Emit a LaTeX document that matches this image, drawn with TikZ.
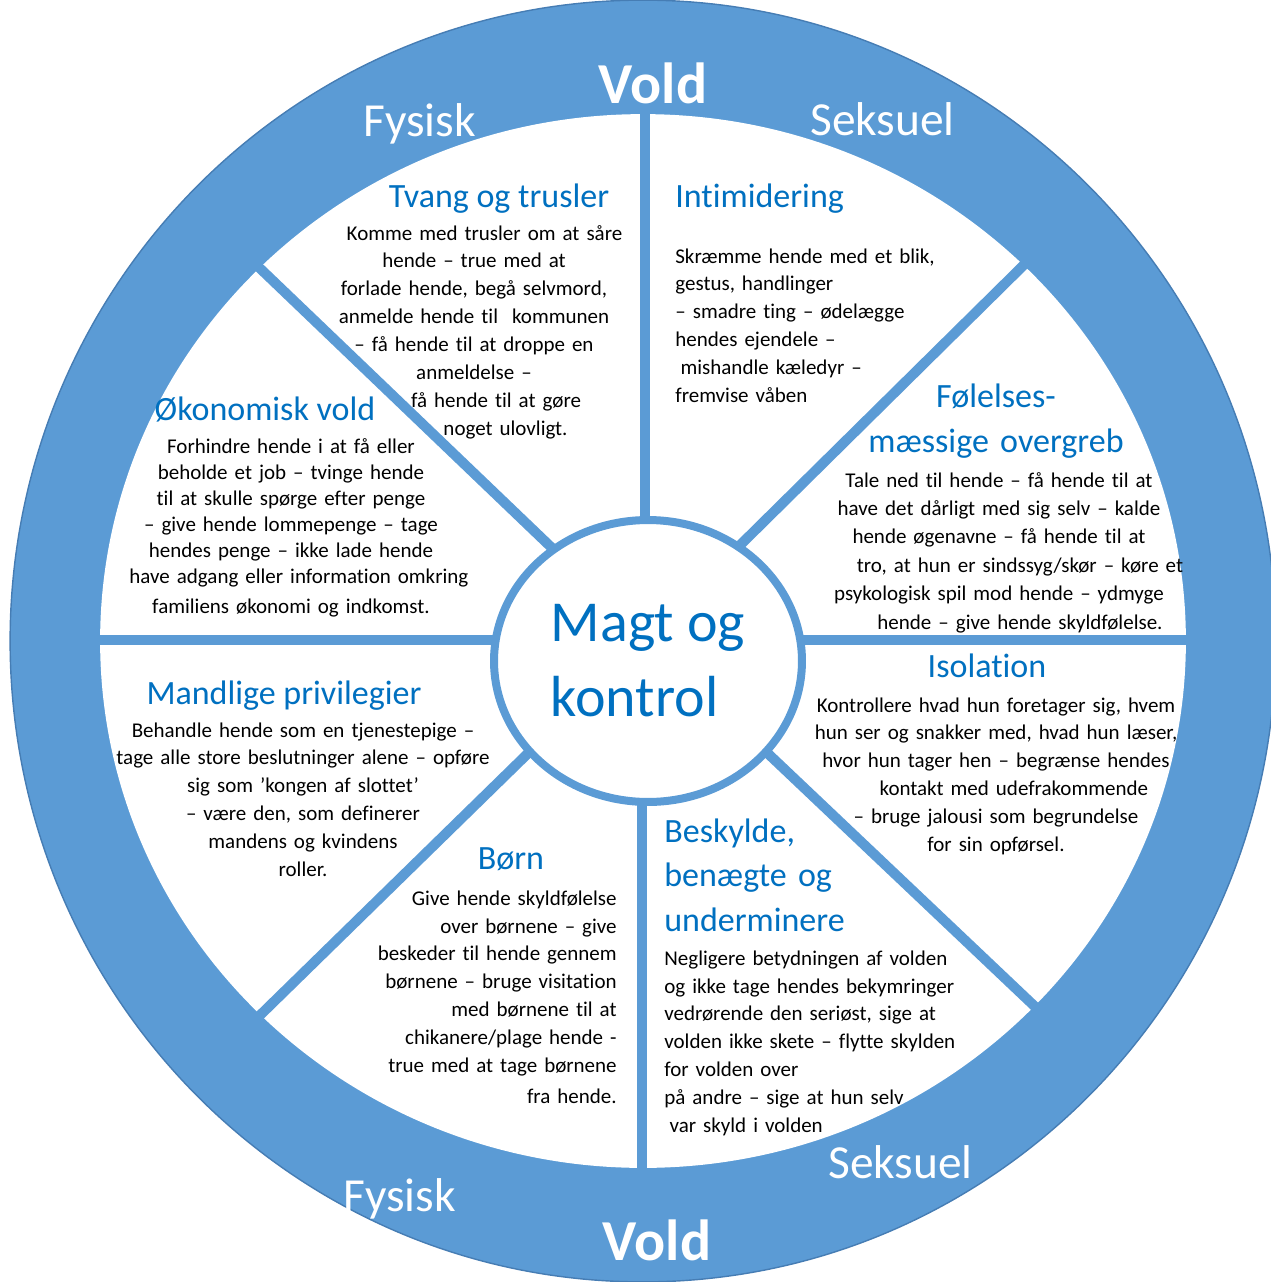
\documentclass[tikz,border=0pt]{standalone}
\usepackage{fontspec}
\setmainfont{Carlito}[Ligatures=NoCommon]
\usepackage{xcolor}
\usetikzlibrary{shapes.geometric}
\definecolor{wheelblue}{RGB}{91,155,213}
\definecolor{wheeledge}{RGB}{70,125,180}
\definecolor{titleblue}{RGB}{0,112,192}
\tikzset{
  spoke/.style={wheelblue, line width=5.7pt},
  hub/.style={ellipse, draw=wheelblue, line width=4.55pt, fill=white,
    minimum width=6.16cm, minimum height=5.64cm, inner sep=0pt, align=left,
    text=titleblue, font=\fontsize{33}{42.7}\selectfont},
  ringlabel/.style={white, inner sep=0pt, font=\fontsize{27}{32}\selectfont},
  voldlabel/.style={white, inner sep=0pt, font=\fontsize{33}{40}\selectfont\bfseries},
  heading/.style={titleblue, inner sep=0pt, font=\fontsize{19.35}{26}\selectfont},
  body/.style={black, inner sep=0pt, text width=9.5cm, font=\fontsize{11.95}{15.93}\selectfont},
}

\begin{document}
\begin{tikzpicture}[x=0.02cm, y=-0.02cm]
\useasboundingbox (0,0) rectangle (1271,1282);
\clip (0,0) rectangle (1271,1282);
% wheel
\draw[wheeledge, fill=wheelblue, line width=0.8pt] (643,641) ellipse [x radius=12.66cm, y radius=12.82cm];
\fill[white] (643,641) ellipse [x radius=10.86cm, y radius=10.54cm];
\coordinate (pivot) at (646,638);
\coordinate (rimN) at (645,95);
\coordinate (rimS) at (642,1190);
\coordinate (rimW) at (80,640);
\coordinate (rimE) at (1205,640);
\coordinate (rimNW) at (245,254);
\coordinate (rimNE) at (1039,250);
\coordinate (rimSW) at (249,1026);
\coordinate (rimSE) at (1047,1018);
\draw[spoke] (rimN |- pivot) -- (rimN);
\draw[spoke] (rimS |- pivot) -- (rimS);
\draw[spoke] (rimW) -- (rimE);
\draw[spoke] (pivot) -- (rimNW);
\draw[spoke] (pivot) -- (rimNE);
\draw[spoke] (pivot) -- (rimSW);
\draw[spoke] (pivot) -- (rimSE);
\node[hub] (hub) at (648,661) {Magt og\\kontrol};
% ring
\node[voldlabel, anchor=base] (voldtop) at (653,103) {Vold};
\node[ringlabel, anchor=base west] (fysisktop) at (363,136) {Fysisk};
\node[ringlabel, anchor=base west] (seksueltop) at (810,135) {Seksuel};
\node[ringlabel, anchor=base west] (fysiskbot) at (343,1211) {Fysisk};
\node[ringlabel, anchor=base west] (seksuelbot) at (828,1178) {Seksuel};
\node[voldlabel, anchor=base] (voldbot) at (657,1260) {Vold};
% headings
\node[heading, anchor=base] (tvang) at (499,207) {Tvang og trusler};
\node[heading, anchor=base west] (intim) at (675,207) {Intimidering};
\node[heading, anchor=base, text width=9cm, align=center] (folelse) at (996,407) {Følelses-\\mæssige overgreb};
\node[heading, anchor=base] (okonomi) at (265,420) {Økonomisk vold};
\node[heading, anchor=base] (mandlig) at (284,704) {Mandlige privilegier};
\node[heading, anchor=base] (isolation) at (987,677) {Isolation};
\node[heading, anchor=base] (born) at (511,869) {Børn};
\node[heading, anchor=base west, text width=9cm, align=left, font=\fontsize{19.35}{25.6}\selectfont] (beskyld) at (664,842) {Beskylde,\\benægte og\\underminere};
% texts
\node[body, align=center, anchor=base] (tvangtxt) at (474,240) {\hspace*{1em}Komme med trusler om at såre\\hende – true med at\\forlade hende, begå selvmord,\\anmelde hende til~ kommunen\\– få hende til at droppe en\\anmeldelse –\\\hspace*{2.1em}få hende til at gøre\\\hspace*{3em}noget ulovligt.};
\node[body, align=left, anchor=base west] (intimtxt) at (675,263) {Skræmme hende med et blik,\\gestus, handlinger\\– smadre ting – ødelægge\\hendes ejendele –\\\hspace*{0.25em}mishandle kæledyr –\\fremvise våben};
\node[body, align=center, anchor=base, font=\fontsize{11.95}{16.2}\selectfont] (folelsetxt) at (999,487) {Tale ned til hende – få hende til at\\have det dårligt med sig selv – kalde\\hende øgenavne – få hende til at\\\hspace*{2em}tro, at hun er sindssyg/skør – køre et\\psykologisk spil mod hende – ydmyge\\\hspace*{2em}hende – give hende skyldfølelse.};
\node[body, align=center, anchor=base, font=\fontsize{11.95}{14.8}\selectfont] (okonomitxt) at (291,453) {Forhindre hende i at få eller\\beholde et job – tvinge hende\\til at skulle spørge efter penge\\– give hende lommepenge – tage\\hendes penge – ikke lade hende\\\hspace*{0.75em}have adgang eller information omkring\\[2.8pt]familiens økonomi og indkomst.};
\node[body, align=center, anchor=base] (mandligtxt) at (303,737) {Behandle hende som en tjenestepige –\\tage alle store beslutninger alene – opføre\\sig som ’kongen af slottet’\\– være den, som definerer\\mandens og kvindens\\roller.};
\node[body, align=center, anchor=base] (isolationtxt) at (996,712) {Kontrollere hvad hun foretager sig, hvem\\hun ser og snakker med, hvad hun læser,\\hvor hun tager hen – begrænse hendes\\\hspace*{1.7em}kontakt med udefrakommende\\– bruge jalousi som begrundelse\\for sin opførsel.};
\node[body, align=right, anchor=base east] (borntxt) at (617,905) {Give hende skyldfølelse\\over børnene – give\\beskeder til hende gennem\\børnene – bruge visitation\\med børnene til at\\chikanere/plage hende -\\true med at tage børnene\\[1.7pt]fra hende.};
\node[body, align=left, anchor=base west] (beskyldtxt) at (664,965) {Negligere betydningen af volden\\og ikke tage hendes bekymringer\\vedrørende den seriøst, sige at\\volden ikke skete – flytte skylden\\for volden over\\på andre – sige at hun selv\\\hspace*{0.25em}var skyld i volden};
\end{tikzpicture}
\end{document}
